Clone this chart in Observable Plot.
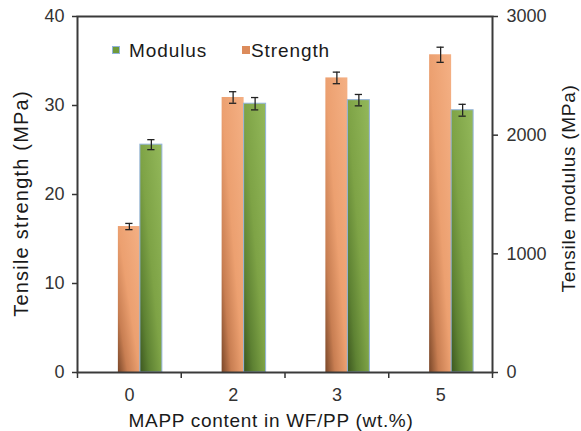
<!DOCTYPE html>
<html>
<head>
<meta charset="utf-8">
<script src="https://cdn.jsdelivr.net/npm/d3@7"></script>
<script src="https://cdn.jsdelivr.net/npm/@observablehq/plot@0.6"></script>
<style>
  body { margin: 0; background: #fff; font-family: "Liberation Sans", Arial, sans-serif; }
  #chart { position: relative; width: 581px; height: 431px; }
  .key { position: absolute; font-size: 19px; letter-spacing: 0.9px; color: #1a1a1a; line-height: 19px; white-space: nowrap; }
  .swatch { position: absolute; width: 8px; height: 8px; box-sizing: border-box; }
</style>
</head>
<body>
<div id="chart"></div>
<script>
// MAPP loading levels and measured tensile properties
const categories = ["0", "2", "3", "5"];
const strength = [16.4, 30.9, 33.1, 35.7];       // MPa
const strengthErr = [0.35, 0.65, 0.65, 0.85];
const modulus = [1920, 2265, 2295, 2210];        // MPa
const modulusErr = [42, 52, 48, 50];
const strengthTicks = [0, 10, 20, 30, 40];
const modulusTicks = [0, 1000, 2000, 3000];
const seriesNames = ["Modulus", "Strength"];
const xTitle = "MAPP content in WF/PP (wt.%)";
const yTitleLeft = "Tensile strength (MPa)";
const yTitleRight = "Tensile modulus (MPa)";

const strengthMax = 40, modulusMax = 3000;
const k = strengthMax / modulusMax;   // modulus -> left-axis units
const barW = 0.212;                   // bar width in category units

const rows = [
  ...categories.map((c, i) => ({i, series: "Strength", value: strength[i], err: strengthErr[i], lo: i - barW / 2, hi: i + barW / 2})),
  ...categories.map((c, i) => ({i, series: "Modulus", value: modulus[i] * k, err: modulusErr[i] * k, lo: i + barW / 2, hi: i + barW * 1.5}))
];
const boundaries = d3.range(categories.length + 1).map(j => j - 0.5);
const ink = "#333";

const chart = Plot.plot({
  width: 581,
  height: 431,
  marginLeft: 77,
  marginRight: 89,
  marginTop: 16,
  marginBottom: 59,
  style: {fontFamily: "'Liberation Sans', Arial, sans-serif", color: ink, background: "#fff"},
  x: {type: "linear", domain: [-0.5, categories.length - 0.5], axis: null},
  y: {domain: [0, strengthMax], axis: null},
  marks: [
    Plot.rect(rows.filter(d => d.series === "Strength"), {x1: "lo", x2: "hi", y1: 0, y2: "value", fill: "url(#gradStrength)"}),
    Plot.rect(rows.filter(d => d.series === "Modulus"), {x1: "lo", x2: "hi", y1: 0, y2: "value", fill: "url(#gradModulus)", stroke: "#93b3db", strokeWidth: 1}),
    // error bars with caps
    Plot.ruleX(rows, {x: d => (d.lo + d.hi) / 2, y1: d => d.value - d.err, y2: d => d.value + d.err, stroke: "#222", strokeWidth: 1.3}),
    Plot.ruleY(rows, {y: d => d.value + d.err, x1: d => (d.lo + d.hi) / 2 - 0.035, x2: d => (d.lo + d.hi) / 2 + 0.035, stroke: "#222", strokeWidth: 1.3}),
    Plot.ruleY(rows, {y: d => d.value - d.err, x1: d => (d.lo + d.hi) / 2 - 0.035, x2: d => (d.lo + d.hi) / 2 + 0.035, stroke: "#222", strokeWidth: 1.3}),
    // axes
    Plot.axisY({ticks: strengthTicks, tickSize: 5, tickPadding: 8, fontSize: 18, label: null, strokeWidth: 1.5}),
    Plot.axisY({anchor: "right", ticks: modulusTicks.map(v => v * k), tickFormat: d => String(Math.round(d / k)), tickSize: 5, tickPadding: 9, fontSize: 18, label: null, strokeWidth: 1.5}),
    Plot.axisX({ticks: categories.map((c, i) => i), tickFormat: i => categories[i], tickSize: 0, tickPadding: 16, fontSize: 18, label: null}),
    Plot.axisX({ticks: boundaries, tickFormat: () => "", tickSize: 6, label: null, strokeWidth: 1.5}),
    Plot.frame({stroke: "#3a3a3a", strokeWidth: 2}),
    // axis titles
    Plot.text([xTitle], {text: d => d, frameAnchor: "bottom", dx: -14, dy: 54, fontSize: 19, fill: "#1a1a1a"}),
    Plot.text([yTitleLeft], {text: d => d, frameAnchor: "left", textAnchor: "middle", rotate: -90, dx: -56, dy: 9, fontSize: 20, fill: "#1a1a1a"}),
    Plot.text([yTitleRight], {text: d => d, frameAnchor: "right", textAnchor: "middle", rotate: -90, dx: 76, dy: -6, fontSize: 19, fill: "#1a1a1a"})
  ]
});

// bar shading: light at the top right, darker toward the bottom left
const defs = d3.select(chart).insert("defs", ":first-child");
function shade(id, stops) {
  const g = defs.append("linearGradient").attr("id", id)
    .attr("x1", 1).attr("y1", 0).attr("x2", 0).attr("y2", 1);
  stops.forEach(([o, c]) => g.append("stop").attr("offset", o).attr("stop-color", c));
}
shade("gradStrength", [[0, "#f4b084"], [0.5, "#eca070"], [0.78, "#c87e52"], [1, "#7a4729"]]);
shade("gradModulus", [[0, "#93b85a"], [0.5, "#7ea346"], [0.78, "#5e8233"], [1, "#3b561f"]]);

// title spacing
d3.select(chart).selectAll("text").each(function () {
  const t = this.textContent;
  if (t === xTitle) this.style.letterSpacing = "0.7px";
  if (t === yTitleLeft) this.style.letterSpacing = "1.2px";
  if (t === yTitleRight) this.style.letterSpacing = "0.7px";
});

const root = document.getElementById("chart");
root.appendChild(chart);

// legend drawn inside the plot area
const keyColors = {Modulus: ["#6f9a3a", "#93b3db"], Strength: ["#dc8b5b", "none"]};
const keyPos = {Modulus: [112, 129], Strength: [242, 251]};
seriesNames.forEach(name => {
  const sw = document.createElement("div");
  sw.className = "swatch";
  sw.style.left = keyPos[name][0] + "px";
  sw.style.top = "46px";
  sw.style.background = keyColors[name][0];
  if (keyColors[name][1] !== "none") sw.style.border = "1px solid " + keyColors[name][1];
  root.appendChild(sw);
  const lb = document.createElement("div");
  lb.className = "key";
  lb.style.left = keyPos[name][1] + "px";
  lb.style.top = "41px";
  lb.textContent = name;
  root.appendChild(lb);
});
</script>
</body>
</html>
